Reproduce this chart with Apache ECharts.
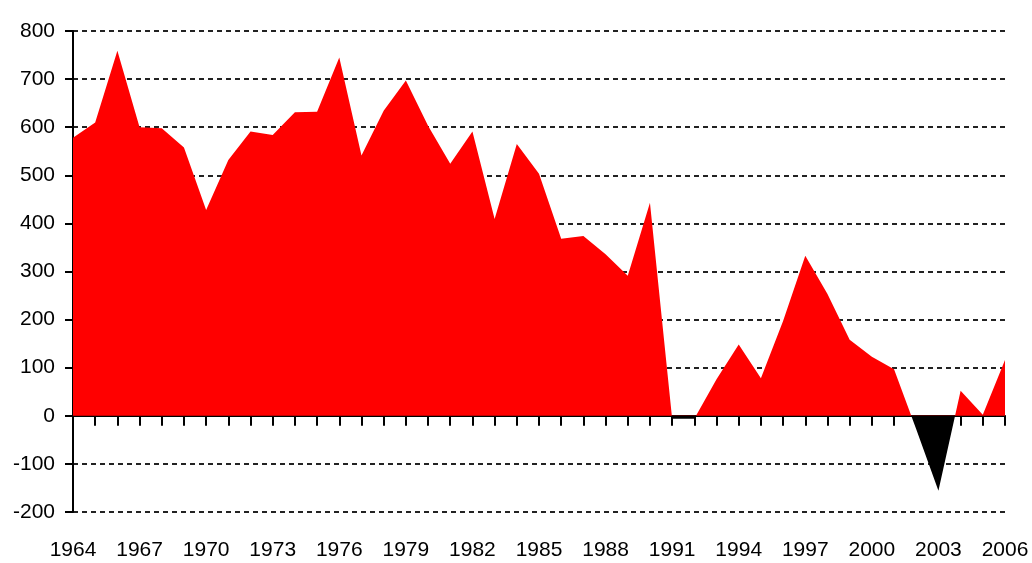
<!DOCTYPE html>
<html>
<head>
<meta charset="utf-8">
<script src="https://cdn.jsdelivr.net/npm/echarts@6/dist/echarts.min.js"></script>
<style>
  html, body { margin: 0; padding: 0; background: #fff; }
  #chart { width: 1032px; height: 563px; }
</style>
</head>
<body>
<div id="chart"></div>
<script>
// years on the x axis
const years = []
for (let y = 1964; y <= 2006; y++) years.push(String(y))

// values, one per year
const values = [
  578, 610, 759, 600, 598, 558, 428, 532, 591, 584,
  631, 632, 745, 541, 634, 697, 603, 524, 591, 409,
  565, 503, 368, 374, 336, 291, 443, -6, -6, 76,
  148, 78, 197, 333, 253, 158, 123, 97, -28, -156,
  52, 2, 116
]

const yTicks = { min: -200, max: 800, step: 100 }

const font = 'Liberation Sans, Arial, sans-serif'

const myChart = echarts.init(document.getElementById('chart'))
myChart.setOption({
  animation: false,
  grid: { left: 73, right: 27, top: 31, bottom: 51 },
  visualMap: {
    show: false,
    type: 'piecewise',
    dimension: 1,
    seriesIndex: 0,
    pieces: [
      { gte: -1000, lt: 0, color: '#000000' },
      { gte: 0, lte: 1000, color: '#ff0000' }
    ]
  },
  xAxis: [
    {
      type: 'category',
      data: years,
      boundaryGap: false,
      axisLine: { onZero: true, lineStyle: { color: '#000', width: 2 } },
      axisTick: { show: true, interval: 0, length: 10, lineStyle: { color: '#000', width: 2 } },
      axisLabel: { show: false },
      splitLine: { show: false }
    },
    {
      type: 'category',
      data: years,
      boundaryGap: false,
      position: 'bottom',
      axisLine: { show: false, onZero: false },
      axisTick: { show: false },
      axisLabel: { interval: 2, margin: 28, fontSize: 21, color: '#000', fontFamily: font },
      splitLine: { show: false }
    }
  ],
  yAxis: {
    type: 'value',
    min: yTicks.min,
    max: yTicks.max,
    interval: yTicks.step,
    axisLine: { show: true, lineStyle: { color: '#000', width: 2 } },
    axisTick: { show: true, length: 8, lineStyle: { color: '#000', width: 2 } },
    axisLabel: { margin: 18, fontSize: 21, color: '#000', fontFamily: font },
    splitLine: { show: true, lineStyle: { color: '#222', width: 2, type: [5, 4] } }
  },
  series: [
    {
      type: 'line',
      data: values,
      xAxisIndex: 0,
      symbol: 'none',
      lineStyle: { width: 0 },
      areaStyle: { opacity: 1 }
    }
  ]
})
</script>
</body>
</html>
